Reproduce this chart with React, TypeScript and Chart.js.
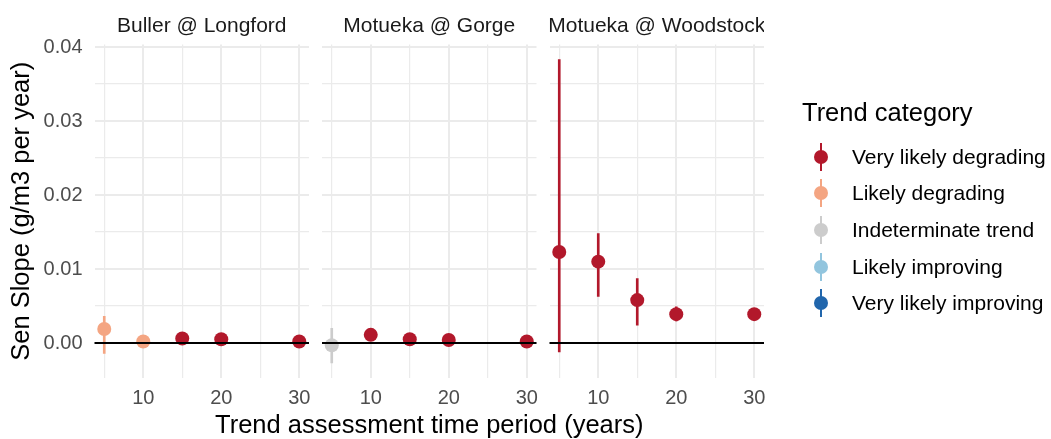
import React, { useEffect, useRef } from "react";
import { Chart, registerables } from "chart.js";

Chart.register(...registerables);

// ---------------- data ----------------
const SITES = ["Buller @ Longford", "Motueka @ Gorge", "Motueka @ Woodstock"];
const PERIODS = [5, 10, 15, 20, 30];

const CATEGORIES = [
  "Very likely degrading",
  "Likely degrading",
  "Indeterminate trend",
  "Likely improving",
  "Very likely improving",
];
const CATEGORY_COLORS = ["#B2182B", "#F4A582", "#CCCCCC", "#92C5DE", "#2166AC"];

const BULLER_SLOPE = [0.0019, 0.0002, 0.0006, 0.0005, 0.0002];
const BULLER_LOWER = [-0.0014, 0.0, 0.0003, 0.0003, 0.0001];
const BULLER_UPPER = [0.0036, 0.0005, 0.0009, 0.0008, 0.0004];
const BULLER_CATEGORY = [
  "Likely degrading",
  "Likely degrading",
  "Very likely degrading",
  "Very likely degrading",
  "Very likely degrading",
];

const GORGE_SLOPE = [-0.0003, 0.0011, 0.0005, 0.0004, 0.0002];
const GORGE_LOWER = [-0.0027, 0.0007, 0.0003, 0.0002, 0.0001];
const GORGE_UPPER = [0.002, 0.0015, 0.0008, 0.0006, 0.0003];
const GORGE_CATEGORY = [
  "Indeterminate trend",
  "Very likely degrading",
  "Very likely degrading",
  "Very likely degrading",
  "Very likely degrading",
];

const WOODSTOCK_SLOPE = [0.0123, 0.011, 0.0058, 0.0039, 0.0039];
const WOODSTOCK_LOWER = [-0.0012, 0.0063, 0.0024, 0.003, 0.0035];
const WOODSTOCK_UPPER = [0.0383, 0.0148, 0.0087, 0.0049, 0.0043];
const WOODSTOCK_CATEGORY = [
  "Very likely degrading",
  "Very likely degrading",
  "Very likely degrading",
  "Very likely degrading",
  "Very likely degrading",
];

const X_TICKS = [5, 10, 15, 20, 25, 30];
const X_TICK_LABELS = ["", "10", "", "20", "", "30"];
const Y_TICKS = [0, 0.005, 0.01, 0.015, 0.02, 0.025, 0.03, 0.035, 0.04];
const Y_TICK_LABELS = ["0.00", "", "0.01", "", "0.02", "", "0.03", "", "0.04"];
const X_MIN = 3.75;
const X_MAX = 31.25;
const Y_MIN = -0.00473;
const Y_MAX = 0.04035;

const X_TITLE = "Trend assessment time period (years)";
const Y_TITLE = "Sen Slope (g/m3 per year)";
const LEGEND_TITLE = "Trend category";

const PANELS = [
  { slope: BULLER_SLOPE, lower: BULLER_LOWER, upper: BULLER_UPPER, cat: BULLER_CATEGORY },
  { slope: GORGE_SLOPE, lower: GORGE_LOWER, upper: GORGE_UPPER, cat: GORGE_CATEGORY },
  { slope: WOODSTOCK_SLOPE, lower: WOODSTOCK_LOWER, upper: WOODSTOCK_UPPER, cat: WOODSTOCK_CATEGORY },
];

// ---------------- layout / style ----------------
const W = 1051;
const H = 439;
const PANEL_LEFTS = [94.5, 322, 549.5];
const PANEL_WIDTH = 214.5;
const PLOT_TOP = 44.5;
const PLOT_BOTTOM = 378;
const FAMILY = "'Liberation Sans', Arial, Helvetica, sans-serif";
const GRID = "#EBEBEB";

const colorOf = (c: string) => CATEGORY_COLORS[CATEGORIES.indexOf(c)];

const stripPlugin = {
  id: "strip",
  afterDraw(chart: any, _args: any, opts: any) {
    const { ctx, chartArea } = chart;
    ctx.save();
    ctx.beginPath();
    ctx.rect(chartArea.left, 0, chartArea.right - chartArea.left, chartArea.top);
    ctx.clip();
    ctx.font = `21px ${FAMILY}`;
    ctx.fillStyle = "#1A1A1A";
    ctx.textAlign = "center";
    ctx.textBaseline = "alphabetic";
    ctx.fillText(opts.text, (chartArea.left + chartArea.right) / 2, 31.5);
    ctx.restore();
  },
};

// x-axis title spanning all three panels, centred on the middle panel
const xTitlePlugin = {
  id: "xTitle",
  afterDraw(chart: any, _args: any, opts: any) {
    if (!opts || !opts.text) return;
    const { ctx, chartArea } = chart;
    ctx.save();
    ctx.font = `25.5px ${FAMILY}`;
    ctx.fillStyle = "#000000";
    ctx.textAlign = "center";
    ctx.textBaseline = "alphabetic";
    ctx.fillText(opts.text, (chartArea.left + chartArea.right) / 2, 433);
    ctx.restore();
  },
};

const zeroLinePlugin = {
  id: "zeroLine",
  afterDatasetsDraw(chart: any) {
    const { ctx, chartArea, scales } = chart;
    const y = scales.y.getPixelForValue(0);
    ctx.save();
    ctx.strokeStyle = "#000000";
    ctx.lineWidth = 2;
    ctx.beginPath();
    ctx.moveTo(chartArea.left, y);
    ctx.lineTo(chartArea.right, y);
    ctx.stroke();
    ctx.restore();
  },
};

function Panel({ index }: { index: number }) {
  const ref = useRef<HTMLCanvasElement | null>(null);
  useEffect(() => {
    const p = PANELS[index];
    const showY = index === 0;
    const showXTitle = index === 1;
    const left = PANEL_LEFTS[index];
    const colors = p.cat.map(colorOf);
    const chart = new Chart(ref.current as HTMLCanvasElement, {
      type: "scatter",
      data: {
        datasets: [
          {
            type: "scatter",
            label: "estimate",
            data: PERIODS.map((x, i) => ({ x, y: p.slope[i] })),
            pointRadius: 7,
            pointHoverRadius: 7,
            pointBackgroundColor: colors,
            pointBorderWidth: 0,
            pointBorderColor: "rgba(0,0,0,0)",
            order: 0,
          } as any,
          {
            type: "bar",
            label: "interval",
            data: PERIODS.map((x, i) => ({ x, y: [p.lower[i], p.upper[i]] })),
            backgroundColor: colors,
            borderWidth: 0,
            barThickness: 2,
            grouped: false,
            order: 1,
          } as any,
        ],
      },
      options: {
        responsive: false,
        animation: false,
        devicePixelRatio: 1,
        events: [],
        layout: {
          padding: {
            left: showY ? 0 : left,
            right: W - left - PANEL_WIDTH,
            top: PLOT_TOP,
            bottom: 0,
          },
        },
        plugins: {
          legend: { display: false },
          tooltip: { enabled: false },
          title: { display: false },
          strip: { text: SITES[index] },
          xTitle: { text: showXTitle ? X_TITLE : "" },
        } as any,
        scales: {
          x: {
            type: "linear",
            min: X_MIN,
            max: X_MAX,
            offset: false,
            afterBuildTicks: (s: any) => {
              s.ticks = X_TICKS.map((v) => ({ value: v }));
            },
            afterFit: (s: any) => {
              s.height = H - PLOT_BOTTOM;
            },
            grid: {
              offset: false,
              drawTicks: false,
              color: GRID,
              lineWidth: (c: any) => (X_TICK_LABELS[c.index] ? 2 : 1.2),
            },
            border: { display: false },
            ticks: {
              autoSkip: false,
              maxRotation: 0,
              padding: 8,
              color: "#4D4D4D",
              font: { family: FAMILY, size: 20 },
              callback: (_v: any, i: number) => X_TICK_LABELS[i],
            },
            title: { display: false },
          },
          y: {
            type: "linear",
            min: Y_MIN,
            max: Y_MAX,
            afterBuildTicks: (s: any) => {
              s.ticks = Y_TICKS.map((v) => ({ value: v }));
            },
            afterFit: (s: any) => {
              s.width = showY ? PANEL_LEFTS[0] : 0;
            },
            grid: {
              drawTicks: false,
              color: GRID,
              lineWidth: (c: any) => (Y_TICK_LABELS[c.index] ? 2 : 1.2),
            },
            border: { display: false },
            ticks: {
              display: showY,
              padding: 12,
              color: "#4D4D4D",
              font: { family: FAMILY, size: 20 },
              callback: (_v: any, i: number) => Y_TICK_LABELS[i],
            },
            title: {
              display: showY,
              text: Y_TITLE,
              color: "#000000",
              font: { family: FAMILY, size: 25.5 },
              padding: { top: 7, bottom: 0 },
            },
          },
        },
      } as any,
      plugins: [stripPlugin, zeroLinePlugin, xTitlePlugin],
    });
    return () => chart.destroy();
  }, [index]);
  return (
    <canvas
      ref={ref}
      width={W}
      height={H}
      style={{ position: "absolute", left: 0, top: 0, width: W, height: H }}
    />
  );
}

function Legend() {
  return (
    <>
      <div
        style={{
          position: "absolute",
          left: 802,
          top: 97,
          font: `25.5px ${FAMILY}`,
          lineHeight: "30px",
          color: "#000",
          whiteSpace: "nowrap",
        }}
      >
        {LEGEND_TITLE}
      </div>
      {CATEGORIES.map((c, i) => {
        const col = CATEGORY_COLORS[i];
        return (
          <div
            key={c}
            style={{
              position: "absolute",
              left: 807,
              top: 156.7 + i * 36.6 - 18,
              height: 36,
              display: "flex",
              alignItems: "center",
              whiteSpace: "nowrap",
            }}
          >
            <div style={{ position: "relative", width: 28, height: 36, flex: "none" }}>
              <div
                style={{ position: "absolute", left: 13, top: 4, width: 2, height: 28, background: col }}
              />
              <div
                style={{
                  position: "absolute",
                  left: 7,
                  top: 11,
                  width: 14,
                  height: 14,
                  borderRadius: "50%",
                  background: col,
                }}
              />
            </div>
            <span style={{ marginLeft: 17, font: `21px ${FAMILY}`, lineHeight: "24px", color: "#000" }}>
              {c}
            </span>
          </div>
        );
      })}
    </>
  );
}

export default function App() {
  return (
    <div
      style={{
        position: "absolute",
        left: 0,
        top: 0,
        width: W,
        height: H,
        background: "#FFFFFF",
        overflow: "hidden",
      }}
    >
      {SITES.map((_, i) => (
        <Panel key={i} index={i} />
      ))}
      <Legend />
    </div>
  );
}
